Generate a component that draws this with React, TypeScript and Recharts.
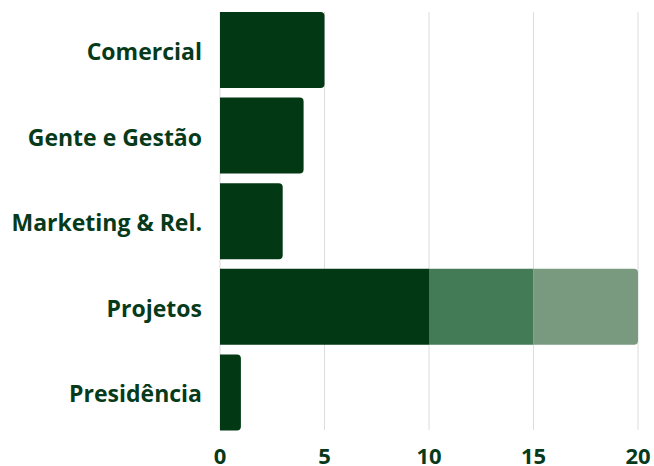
import React from "react";
import { BarChart, Bar, XAxis, YAxis, CartesianGrid, Cell } from "recharts";

const categories = ["Comercial", "Gente e Gestão", "Marketing & Rel.", "Projetos", "Presidência"];
const seriesA = [5, 4, 3, 10, 1];
const seriesB = [0, 0, 0, 5, 0];
const seriesC = [0, 0, 0, 5, 0];
const xTicks = [0, 5, 10, 15, 20];

const data = categories.map((name, i) => ({ name, a: seriesA[i], b: seriesB[i], c: seriesC[i] }));

const TEXT = "#063a1a";
const FONT = "'Open Sans', 'Noto Sans', sans-serif";

export default function App() {
  return (
    <div style={{ position: "absolute", left: 0, top: 0 }}>
      <BarChart
        width={654}
        height={466}
        data={data}
        layout="vertical"
        margin={{ top: 12, right: 16, bottom: 0, left: 0 }}
        barCategoryGap={5}
      >
        <CartesianGrid horizontal={false} stroke="#dcdcdc" />
        <XAxis
          type="number"
          domain={[0, 20]}
          ticks={xTicks}
          axisLine={false}
          tickLine={false}
          tickSize={0}
          tickMargin={18}
          height={36}
          tick={{ fill: TEXT, fontSize: 22, fontWeight: 700, fontFamily: FONT }}
        />
        <YAxis
          type="category"
          dataKey="name"
          width={220}
          axisLine={false}
          tickLine={false}
          tickSize={0}
          tickMargin={18}
          padding={{ top: -5, bottom: -5 }}
          tick={{ fill: TEXT, fontSize: 23, fontWeight: 700, fontFamily: FONT, dy: 2 }}
        />
        <Bar dataKey="a" stackId="s" fill="#023814" isAnimationActive={false}>
          {data.map((d, i) => (
            <Cell key={i} radius={d.b > 0 ? 0 : ([0, 4, 4, 0] as any)} />
          ))}
        </Bar>
        <Bar dataKey="b" stackId="s" fill="#437b57" isAnimationActive={false} />
        <Bar dataKey="c" stackId="s" fill="#7a9a80" radius={[0, 4, 4, 0]} isAnimationActive={false} />
      </BarChart>
    </div>
  );
}
